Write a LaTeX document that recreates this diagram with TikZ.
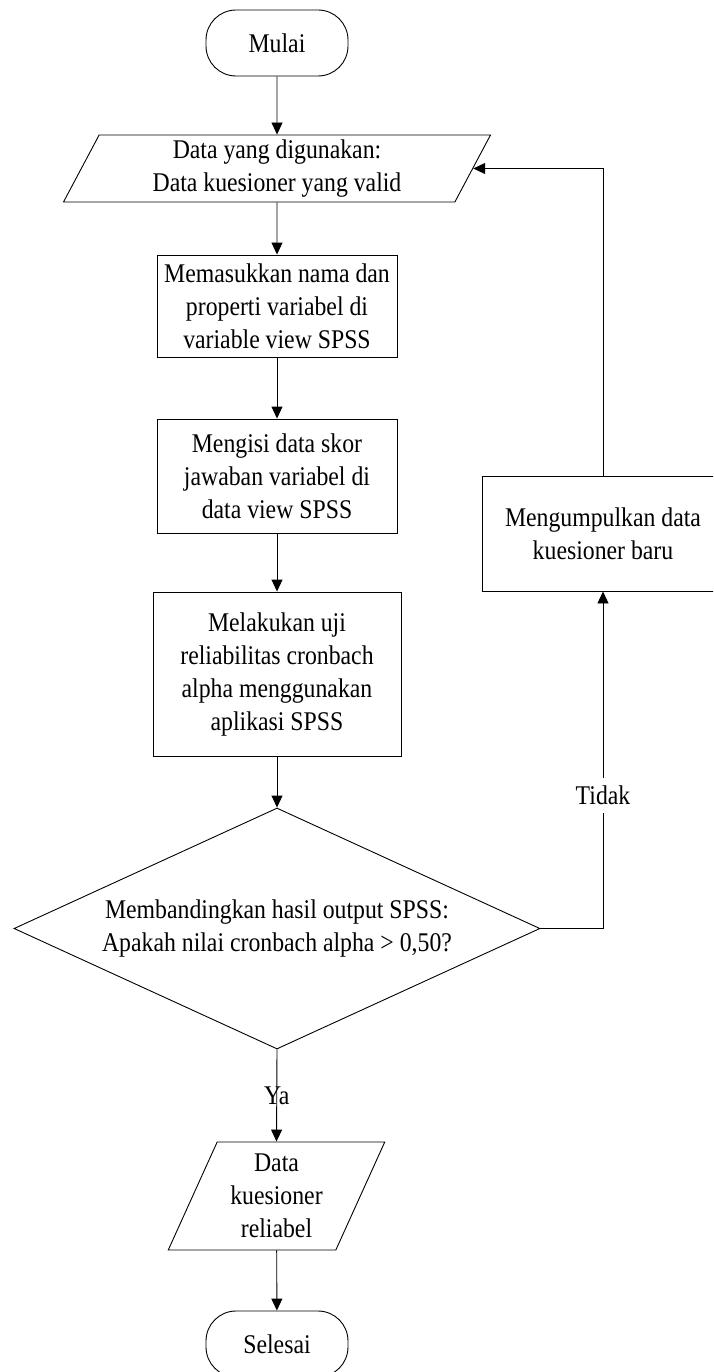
\documentclass[tikz,border=0pt]{standalone}
\usepackage{fontspec}
\setmainfont{Liberation Serif}[FakeStretch=0.88]
\usetikzlibrary{shapes.geometric,arrows.meta}

\tikzset{
  base/.style={draw, line width=0.9pt, align=center, inner sep=0pt,
    font=\fontsize{27}{33}\selectfont},
  terminal/.style={base, rectangle, rounded corners=30pt,
    minimum width=142pt, minimum height=66pt},
  process/.style={base, rectangle},
  io/.style={base, trapezium, trapezium stretches=true},
  decision/.style={base, diamond},
  flow/.style={line width=0.9pt, -{Triangle[length=12pt,width=11pt]}},
  lbl/.style={font=\fontsize{27}{33}\selectfont, inner sep=0pt}
}

\begin{document}
\begin{tikzpicture}[x=1pt, y=-1pt]
  \useasboundingbox (0,0) rectangle (713,1372);
  \clip (0,0) rectangle (713,1372);

  % main column
  \node[terminal] (start) at (277,43) {Mulai};
  \node[io, trapezium left angle=66.6, trapezium right angle=113.4,
        minimum width=428pt, minimum height=67pt] (input) at (277,168.5)
        {Data yang digunakan:\\Data kuesioner yang valid};
  \node[process, minimum width=240pt, minimum height=102pt] (varview) at (277,306)
        {Memasukkan nama dan\\properti variabel di\\variable view SPSS};
  \node[process, minimum width=240pt, minimum height=114pt] (dataview) at (277,476)
        {Mengisi data skor\\jawaban variabel di\\data view SPSS};
  \node[process, minimum width=248pt, minimum height=164pt] (test) at (277,674)
        {Melakukan uji\\reliabilitas cronbach\\alpha menggunakan\\aplikasi SPSS};
  \node[decision, aspect=2.18, minimum width=526pt, minimum height=241pt] (check) at (277,928.5)
        {Membandingkan hasil output SPSS:\\Apakah nilai cronbach alpha > 0,50?};
  \node[io, trapezium left angle=65.6, trapezium right angle=114.4,
        minimum width=217pt, minimum height=108pt] (output) at (276.5,1196)
        {Data\\kuesioner\\reliabel};
  \node[terminal] (stop) at (277,1344) {Selesai};

  % loop back branch
  \node[process, minimum width=242pt, minimum height=115pt] (collect) at (603,533.5)
        {Mengumpulkan data\\kuesioner baru};

  % connectors
  \draw[flow] (start) -- (input);
  \draw[flow] (input) -- (varview);
  \draw[flow] (varview) -- (dataview);
  \draw[flow] (dataview) -- (test);
  \draw[flow] (test) -- (check);
  \draw[flow] (check.south) -- node[lbl] {Ya} (output.north);
  \draw[flow] (output) -- (stop);
  \draw[flow] (check.east) -| (collect.south);
  \draw[flow] (collect.north) |- (input.east);

  \node[lbl, fill=white, minimum height=35pt, inner xsep=2pt] (no) at (603,795) {Tidak};
\end{tikzpicture}
\end{document}
